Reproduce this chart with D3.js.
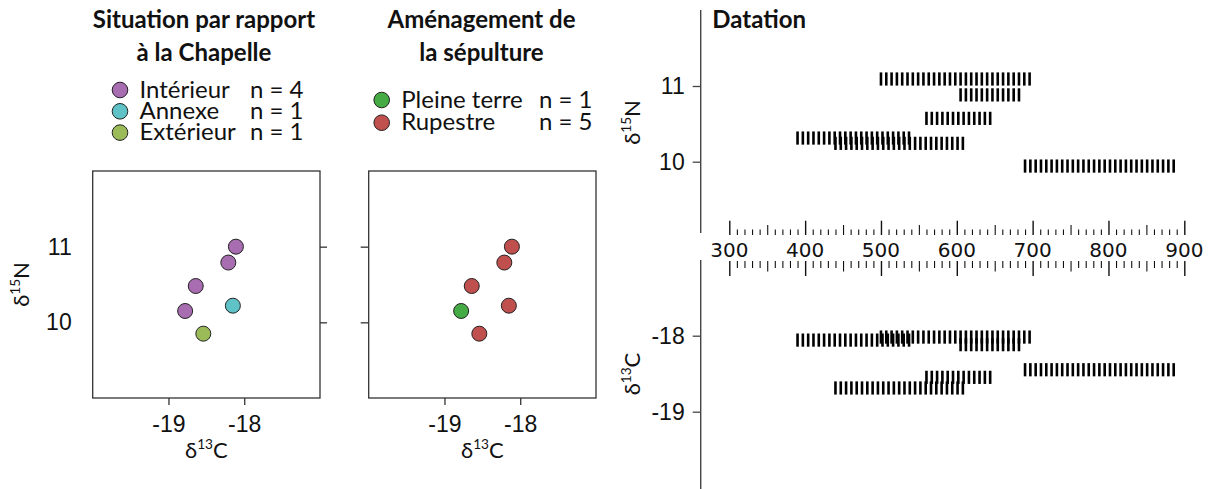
<!DOCTYPE html>
<html>
<head>
<meta charset="utf-8">
<script src="https://cdnjs.cloudflare.com/ajax/libs/d3/7.8.5/d3.min.js"></script>
<style>
	body { margin: 0; background: #fff; }
	svg { display: block; font-family: Lato, 'Open Sans', sans-serif; }
</style>
</head>
<body>
<svg id="chart" width="1210" height="489"></svg>
<script>
// valeurs, une entrée par individu
var d13C = [-18.11, -18.21, -18.64, -18.78, -18.15, -18.54];
var d15N = [11.00, 10.79, 10.48, 10.15, 10.22, 9.85];
var situation = ['Intérieur', 'Intérieur', 'Intérieur', 'Intérieur', 'Annexe', 'Extérieur'];
var amenagement = ['Rupestre', 'Rupestre', 'Rupestre', 'Pleine terre', 'Rupestre', 'Rupestre'];
var dateDebut = [500, 605, 560, 440, 390, 690];
var dateFin = [700, 685, 650, 610, 540, 890];

var situations = ['Intérieur', 'Annexe', 'Extérieur'];
var situationCouleurs = ['#a86cb0', '#5fc2c7', '#9bbb59'];
var amenagements = ['Pleine terre', 'Rupestre'];
var amenagementCouleurs = ['#45ab45', '#c0504d'];

var ticksC = [-19, -18];
var ticksN = [10, 11];
var ticksDate = [300, 400, 500, 600, 700, 800, 900];

(function(d3){
	'use strict';

	var svg = d3.select('#chart');
	var ink = '#111';
	var FS = 22;     // titres d'axes
	var FT = 23;     // graduations
	var FL = 24;     // titres et légendes
	var fmt = function(d) {return String(d);};   // tiret simple, pas de signe moins unicode

	// delta + exposant, ex. δ15N
	function delta(text, iso, el) {
		text.append('tspan').text('δ');
		text.append('tspan').attr('font-size', FS * 0.62).attr('dy', -FS * 0.4).text(iso);
		text.append('tspan').attr('dy', FS * 0.4).text(el);}

	function panneau(cfg) {
		var g = svg.append('g');
		var x = d3.scaleLinear().domain([-20, -17]).range([cfg.left, cfg.left + 227.3]);
		var y = d3.scaleLinear().domain([9, 12]).range([398, 171]);

		// titre sur deux lignes
		cfg.titre.forEach(function(t, i) {
			g.append('text')
				.attr('x', cfg.titreX).attr('y', 28 + i * 33)
				.attr('text-anchor', 'middle')
				.attr('font-weight', 'bold').attr('font-size', FL)
				.attr('fill', ink).text(t);});

		// légende
		var leg = g.selectAll('.leg').data(cfg.categories).enter().append('g')
			.attr('transform', function(d, i) {
				return 'translate(' + cfg.legX + ',' + (cfg.legY + i * cfg.legStep) + ')';});
		leg.append('circle').attr('r', 7.8)
			.attr('fill', function(d, i) {return cfg.couleurs[i];})
			.attr('stroke', '#222').attr('stroke-width', 1);
		leg.append('text').attr('x', 19.5).attr('y', 7.5)
			.attr('font-size', FL).attr('fill', ink)
			.text(function(d) {return d;});
		leg.append('text').attr('x', cfg.nX).attr('y', 7.5)
			.attr('font-size', FL).attr('fill', ink)
			.text(function(d) {
				return 'n = ' + cfg.groupe.filter(function(v) {return v === d;}).length;});

		// cadre
		g.append('rect')
			.attr('x', x.range()[0]).attr('y', y.range()[1])
			.attr('width', x.range()[1] - x.range()[0]).attr('height', y.range()[0] - y.range()[1])
			.attr('fill', 'none').attr('stroke', '#333').attr('stroke-width', 1.3);

		var ax = g.append('g').attr('transform', 'translate(0,398)')
			.call(d3.axisBottom(x).tickValues(ticksC).tickSize(7).tickPadding(10.5).tickFormat(fmt));
		ax.select('.domain').remove();
		ax.selectAll('line').attr('stroke', '#333').attr('stroke-width', 1.3);
		ax.selectAll('text').attr('font-size', FT).attr('fill', ink).attr('font-family', null);

		if (cfg.labelsY) {
			var al = g.append('g').attr('transform', 'translate(' + x.range()[0] + ',0)')
				.call(d3.axisLeft(y).tickValues(ticksN).tickSize(0).tickPadding(21).tickFormat(fmt));
			al.select('.domain').remove();
			al.selectAll('text').attr('font-size', FT).attr('fill', ink).attr('font-family', null);
			var ar = g.append('g').attr('transform', 'translate(' + x.range()[1] + ',0)')
				.call(d3.axisRight(y).tickValues(ticksN).tickSize(7).tickFormat(''));
			ar.select('.domain').remove();
			ar.selectAll('line').attr('stroke', '#333').attr('stroke-width', 1.3);
			var ty = g.append('text')
				.attr('transform', 'translate(29,' + y(10.5) + ') rotate(-90)')
				.attr('text-anchor', 'middle').attr('font-size', FS).attr('fill', ink);
			delta(ty, '15', 'N');}
		else {
			var am = g.append('g').attr('transform', 'translate(' + x.range()[0] + ',0)')
				.call(d3.axisLeft(y).tickValues(ticksN).tickSize(8).tickFormat(''));
			am.select('.domain').remove();
			am.selectAll('line').attr('stroke', '#333').attr('stroke-width', 1.3);}

		var tx = g.append('text')
			.attr('x', (x.range()[0] + x.range()[1]) / 2).attr('y', 458)
			.attr('text-anchor', 'middle').attr('font-size', FS).attr('fill', ink);
		delta(tx, '13', 'C');

		// points
		g.selectAll('.pt').data(d13C).enter().append('circle')
			.attr('cx', function(d) {return x(d);})
			.attr('cy', function(d, i) {return y(d15N[i]);})
			.attr('r', 7.5)
			.attr('fill', function(d, i) {
				return cfg.couleurs[cfg.categories.indexOf(cfg.groupe[i])];})
			.attr('stroke', '#222').attr('stroke-width', 1);
	}

	panneau({left: 92.7, titre: ['Situation par rapport', 'à la Chapelle'], titreX: 204,
		categories: situations, couleurs: situationCouleurs, groupe: situation,
		legX: 120, legY: 90, legStep: 21.3, nX: 130, labelsY: true});
	panneau({left: 368.7, titre: ['Aménagement de', 'la sépulture'], titreX: 481.5,
		categories: amenagements, couleurs: amenagementCouleurs, groupe: amenagement,
		legX: 381.7, legY: 100, legStep: 22.7, nX: 157.3, labelsY: false});

	// ---- Datation ----
	var xD = d3.scaleLinear().domain([300, 900]).range([729.3, 1184.3]);
	var yN = d3.scaleLinear().domain([9, 12]).range([237.4, 10.3]);
	var yC = d3.scaleLinear().domain([-20, -17]).range([487.7, 259.7]);
	var axeX = 700.7;
	var dg = svg.append('g');

	dg.append('text').attr('x', 712.3).attr('y', 28)
		.attr('font-weight', 'bold').attr('font-size', FL).attr('fill', ink).text('Datation');

	[[10, 233], [260, 489]].forEach(function(s) {
		dg.append('line').attr('x1', axeX).attr('x2', axeX).attr('y1', s[0]).attr('y2', s[1])
			.attr('stroke', '#444').attr('stroke-width', 1.4);});

	[[yN, ticksN, '15', 'N', 122.5], [yC, ticksC, '13', 'C', 374]].forEach(function(a) {
		var ay = dg.append('g').attr('transform', 'translate(' + axeX + ',0)')
			.call(d3.axisLeft(a[0]).tickValues(a[1]).tickSize(8).tickPadding(8).tickFormat(fmt));
		ay.select('.domain').remove();
		ay.selectAll('line').attr('stroke', '#444').attr('stroke-width', 1.3);
		ay.selectAll('text').attr('font-size', FT).attr('fill', ink).attr('font-family', null);
		var t = dg.append('text')
			.attr('transform', 'translate(640,' + a[4] + ') rotate(-90)')
			.attr('text-anchor', 'middle').attr('font-size', FS).attr('fill', ink);
		delta(t, a[2], a[3]);});

	// échelle des dates : graduations de 10 en 10 en haut et en bas
	var tous = d3.range(300, 901, 10);
	var moyens = tous.filter(function(v) {return v % 100 === 50;});
	var petits = tous.filter(function(v) {return v % 50 !== 0;});
	function graduer(axisFn, y0, tailles) {
		[[ticksDate, tailles[0], 1.4], [moyens, tailles[1], 1.1], [petits, tailles[2], 1.1]].forEach(function(r) {
			var a = dg.append('g').attr('transform', 'translate(0,' + y0 + ')')
				.call(axisFn(xD).tickValues(r[0]).tickSize(r[1]).tickFormat(''));
			a.select('.domain').remove();
			a.selectAll('line').attr('stroke', ink).attr('stroke-width', r[2]);});}
	graduer(d3.axisTop, 235, [14.3, 10, 5.5]);
	graduer(d3.axisBottom, 261, [15, 10.5, 7]);

	dg.selectAll('.lab').data(ticksDate).enter().append('text')
		.attr('x', function(d) {return xD(d);}).attr('y', 257.3)
		.attr('text-anchor', 'middle')
		.attr('font-family', 'DejaVu Sans').attr('font-size', 20).attr('fill', ink)
		.text(function(d) {return d;});

	// tirets : un toutes les ~7 années sur l'intervalle de datation
	function tirets(scale, valeurs) {
		d3.range(d13C.length).forEach(function(i) {
			dg.append('g').selectAll('line')
				.data(d3.range(dateDebut[i], dateFin[i] + 1, 7)).enter().append('line')
				.attr('x1', function(d) {return xD(d);}).attr('x2', function(d) {return xD(d);})
				.attr('y1', scale(valeurs[i]) - 7 - 6.6).attr('y2', scale(valeurs[i]) - 7 + 6.6)
				.attr('stroke', '#000').attr('stroke-width', 2.6);});}
	tirets(yN, d15N);
	tirets(yC, d13C);

})(d3);
</script>
</body>
</html>
